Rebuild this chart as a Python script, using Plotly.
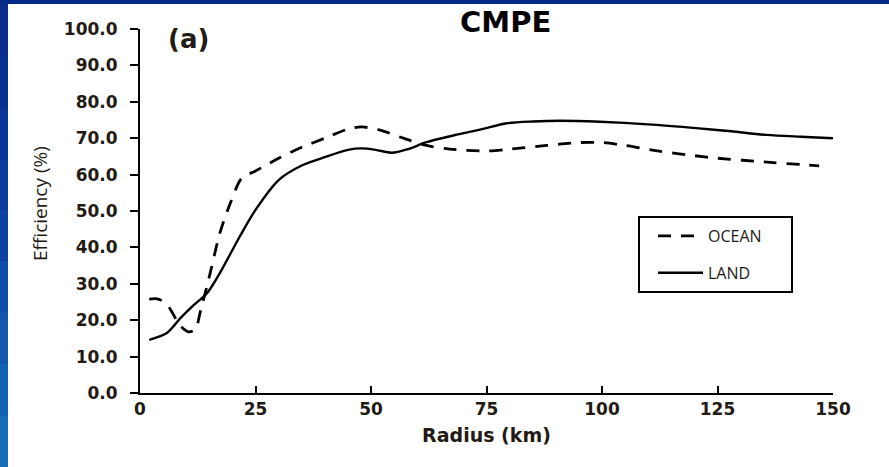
import plotly.graph_objects as go

# ---- data ----
ocean_r = [2, 4, 6, 8.7, 10.5, 12, 13, 15.2, 17.3, 19.5, 22, 25, 30, 35, 40, 45, 48, 52, 57, 62, 67, 75, 80, 88, 95, 100, 105, 112, 120, 125, 135, 147]
ocean_e = [25.8, 25.8, 24.0, 18.5, 16.8, 17.5, 22.0, 33.0, 44.0, 52.0, 59.0, 61.0, 64.5, 67.5, 70.0, 72.5, 73.1, 72.2, 70.0, 68.0, 67.0, 66.5, 67.0, 68.0, 68.8, 68.8, 68.0, 66.5, 65.2, 64.5, 63.5, 62.4]

land_r = [2, 5.8, 8.7, 11.5, 14.5, 17.3, 21.6, 25, 30, 35, 40, 45, 48, 51, 54.5, 58, 62, 68, 74, 79.4, 85, 91, 99.6, 110, 121, 128, 135.6, 143, 150]
land_e = [14.6, 16.5, 20.5, 24.0, 27.4, 33.0, 43.0, 50.3, 58.5, 62.5, 64.8, 66.8, 67.2, 66.8, 66.0, 67.0, 68.9, 70.8, 72.5, 74.1, 74.6, 74.8, 74.5, 73.8, 72.7, 71.9, 70.9, 70.4, 70.0]

x_ticks = [0, 25, 50, 75, 100, 125, 150]
y_ticks = [0, 10, 20, 30, 40, 50, 60, 70, 80, 90, 100]
y_tick_text = [f"{v:.1f}" for v in y_ticks]

W, H = 889, 467
L, R, T, B = 140, 56, 29, 74
pw, ph = W - L - R, H - T - B
TXT = "#231a14"

def px(x):
    return (x - L) / pw

def py(y):
    return (H - B - y) / ph

fig = go.Figure()
fig.add_trace(go.Scatter(x=ocean_r, y=ocean_e, mode="lines", name="OCEAN", legendgroup="o",
                         line=dict(color="black", width=2.8, dash="13px,10px", shape="spline", smoothing=0.8)))
fig.add_trace(go.Scatter(x=land_r, y=land_e, mode="lines", name="LAND", legendgroup="l",
                         line=dict(color="black", width=2.4, shape="spline", smoothing=0.8)))

shapes = []
# blue frame: top band
shapes.append(dict(type="rect", xref="paper", yref="paper", x0=px(0), x1=px(W), y0=py(4), y1=py(0),
                   fillcolor="#012a86", line=dict(width=0), layer="below"))
# left gradient band
cols = ["#0a2c8c", "#0a2f92", "#0a3498", "#0b3a9e", "#0c42a4", "#0e4caa", "#1157ae", "#1462b2", "#176cb5"]
n = len(cols)
for i, c in enumerate(cols):
    y0 = 4 + (H - 4) * i / n
    y1 = 4 + (H - 4) * (i + 1) / n + 1
    shapes.append(dict(type="rect", xref="paper", yref="paper", x0=px(0), x1=px(8), y0=py(y1), y1=py(y0),
                       fillcolor=c, line=dict(width=0), layer="below"))
# legend box
shapes.append(dict(type="rect", xref="paper", yref="paper", x0=px(639), x1=px(792), y0=py(292), y1=py(217),
                   fillcolor="white", line=dict(color="black", width=2), layer="below"))

fig.update_layout(
    width=W, height=H,
    margin=dict(l=L, r=R, t=T, b=B),
    paper_bgcolor="white", plot_bgcolor="rgba(0,0,0,0)",
    shapes=shapes,
    showlegend=True,
    legend=dict(x=px(653), y=py(219), xanchor="left", yanchor="top",
                borderwidth=0, bgcolor="rgba(0,0,0,0)",
                font=dict(family="Open Sans, sans-serif", size=16, color=TXT),
                tracegroupgap=13, itemwidth=45),
    annotations=[
        dict(text="<b>CMPE</b>", x=px(505), y=py(22), xref="paper", yref="paper",
             showarrow=False, font=dict(family="DejaVu Sans, Verdana, sans-serif", size=29, color="black"),
             xanchor="center", yanchor="middle"),
        dict(text="<b>(a)</b>", x=px(188), y=py(39), xref="paper", yref="paper",
             showarrow=False, font=dict(family="DejaVu Sans, Verdana, sans-serif", size=26, color=TXT),
             xanchor="center", yanchor="middle"),
        dict(text="Efficiency (%)", x=px(40), y=py(204), xref="paper", yref="paper", textangle=-90,
             showarrow=False, font=dict(family="Open Sans, sans-serif", size=19, color=TXT),
             xanchor="center", yanchor="middle"),
    ],
)

fig.update_xaxes(range=[0, 150], tickvals=x_ticks, ticktext=[str(v) for v in x_ticks],
                 showline=True, linecolor="black", linewidth=2, showgrid=False, zeroline=False,
                 ticks="inside", ticklen=7, tickwidth=2, tickcolor="black",
                 tickfont=dict(family="DejaVu Sans, Verdana, sans-serif", size=17, color=TXT, weight="bold"),
                 title=dict(text="<b>Radius (km)</b>", standoff=10,
                            font=dict(family="DejaVu Sans, sans-serif", size=19, color=TXT)))
fig.update_yaxes(range=[0, 100], tickvals=y_ticks, ticktext=y_tick_text,
                 showline=True, linecolor="black", linewidth=2, showgrid=False, zeroline=False,
                 ticks="outside", ticklen=8, tickwidth=2, tickcolor="black", ticklabelstandoff=9,
                 tickfont=dict(family="DejaVu Sans, Verdana, sans-serif", size=17, color=TXT, weight="bold"))

fig.write_html("out.html", post_script="document.body.style.margin='0';",
               config={"displayModeBar": False})
